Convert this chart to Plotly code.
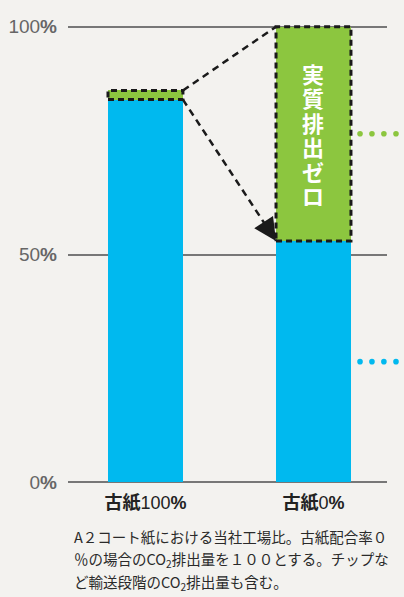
import plotly.graph_objects as go

# ---------------- data ----------------
categories = ["古紙100%", "古紙0%"]
tick_labels = ["<b>古紙</b>100<b>%</b>", "<b>古紙</b>0<b>%</b>"]
blue_values = [84, 53]          # CO2 emissions (remaining part)
green_values = [2, 47]          # part offset -> "実質排出ゼロ"
y_tick_values = [0, 50, 100]
y_tick_labels = ["0<b>%</b>", "50<b>%</b>", "100<b>%</b>"]
bar_text = "実質排出ゼロ"
footnote_lines = [
    "A２コート紙における当社工場比。古紙配合率０",
    "％の場合のCO<sub>2</sub>排出量を１００とする。チップな",
    "ど輸送段階のCO<sub>2</sub>排出量も含む。",
]

# ---------------- style ----------------
BLUE = "#00B9EF"
GREEN = "#8CC63F"
BG = "#F3F2EF"
GRID = "#777777"
INK = "#1A1A1A"
W = 0.446
FIG_W, FIG_H = 404, 597
M_L, M_R, M_T, M_B = 68, 17, 13, 110
Y_RANGE = [-1, 103]
X_RANGE = [-0.461, 1.4375]

x_pos = list(range(len(categories)))
tops = [b + g for b, g in zip(blue_values, green_values)]

fig = go.Figure()
fig.add_bar(x=x_pos, y=blue_values, width=W,
            marker=dict(color=BLUE, line_width=0), hoverinfo="skip")
fig.add_bar(x=x_pos, y=green_values, base=blue_values, width=W,
            marker=dict(color=GREEN, line_width=0), hoverinfo="skip")

shapes = []
# dashed outlines of the green segments
for i in x_pos:
    shapes.append(dict(type="rect", xref="x", yref="y",
                       x0=i - W / 2, x1=i + W / 2, y0=blue_values[i], y1=tops[i],
                       line=dict(color=INK, width=3, dash="6px,4px"),
                       layer="above"))
# dashed connector lines
shapes.append(dict(type="line", xref="x", yref="y",
                   x0=0 + W / 2, y0=tops[0], x1=1 - W / 2, y1=tops[1],
                   line=dict(color=INK, width=2.5, dash="7px,5px"), layer="above"))
shapes.append(dict(type="line", xref="x", yref="y",
                   x0=0 + W / 2, y0=blue_values[0], x1=1 - W / 2, y1=blue_values[1],
                   line=dict(color=INK, width=2.5, dash="7px,5px"), layer="above"))

# leader dots to the right of the second bar (outside plot area)
def x_to_paper(xv):
    return (xv - X_RANGE[0]) / (X_RANGE[1] - X_RANGE[0])

dot_offsets = [0.054, 0.125, 0.196, 0.268]
for yv, col in [(blue_values[1] + green_values[1] / 2, GREEN), (blue_values[1] / 2, BLUE)]:
    for d in dot_offsets:
        shapes.append(dict(type="circle", xref="paper", yref="y",
                           xsizemode="pixel", ysizemode="pixel",
                           xanchor=x_to_paper(1 + W / 2 + d), yanchor=yv,
                           x0=-2.8, x1=2.8, y0=-2.8, y1=2.8,
                           fillcolor=col, line_width=0, layer="above"))

annotations = []
# arrow head at the end of the lower connector
fx = 0.9
ax = (0 + W / 2) + fx * ((1 - W / 2) - (0 + W / 2))
ay = blue_values[0] + fx * (blue_values[1] - blue_values[0])
annotations.append(dict(x=1 - W / 2, y=blue_values[1], xref="x", yref="y",
                        ax=ax, ay=ay, axref="x", ayref="y", text="",
                        showarrow=True, arrowhead=2, arrowsize=1.8,
                        arrowwidth=2.5, arrowcolor=INK, standoff=0))

# vertical text in the green segment
mid_green = blue_values[1] + green_values[1] / 2
n = len(bar_text)
for k, ch in enumerate(bar_text):
    annotations.append(dict(x=1, y=mid_green, xref="x", yref="y",
                            text="<b>" + ch + "</b>", showarrow=False,
                            yshift=((n - 1) / 2 - k) * 24.5,
                            font=dict(family="Noto Sans CJK JP", size=22, color="white")))

# footnote
plot_h = FIG_H - M_T - M_B
plot_w = FIG_W - M_L - M_R
for k, line in enumerate(footnote_lines):
    py = 536 + 23 * k
    annotations.append(dict(xref="paper", yref="paper",
                            x=(72 - M_L) / plot_w, y=(FIG_H - M_B - py) / plot_h,
                            xanchor="left", yanchor="middle", showarrow=False,
                            text=line,
                            font=dict(family="Noto Sans CJK JP", size=14.5, color="#2A2A2A")))

fig.update_layout(
    width=FIG_W, height=FIG_H,
    margin=dict(l=M_L, r=M_R, t=M_T, b=M_B, pad=0, autoexpand=False),
    paper_bgcolor=BG, plot_bgcolor=BG,
    barmode="overlay", bargap=0, showlegend=False,
    shapes=shapes, annotations=annotations,
    xaxis=dict(range=X_RANGE, tickvals=x_pos, ticktext=tick_labels,
               showgrid=False, zeroline=False, showline=False, ticks="",
               ticklabelstandoff=3,
               tickfont=dict(family="Liberation Sans, Noto Sans CJK JP", size=18, color="#222222")),
    yaxis=dict(range=Y_RANGE, tickvals=y_tick_values, ticktext=y_tick_labels,
               showgrid=True, gridcolor=GRID, gridwidth=2,
               zeroline=True, zerolinecolor=GRID, zerolinewidth=2,
               showline=False, ticks="", ticklabelstandoff=10,
               tickfont=dict(family="Liberation Sans", size=19, color="#666666")),
)

fig.write_html("out.html", config={"displayModeBar": False},
               post_script="document.body.style.margin='0';document.body.style.padding='0';")
